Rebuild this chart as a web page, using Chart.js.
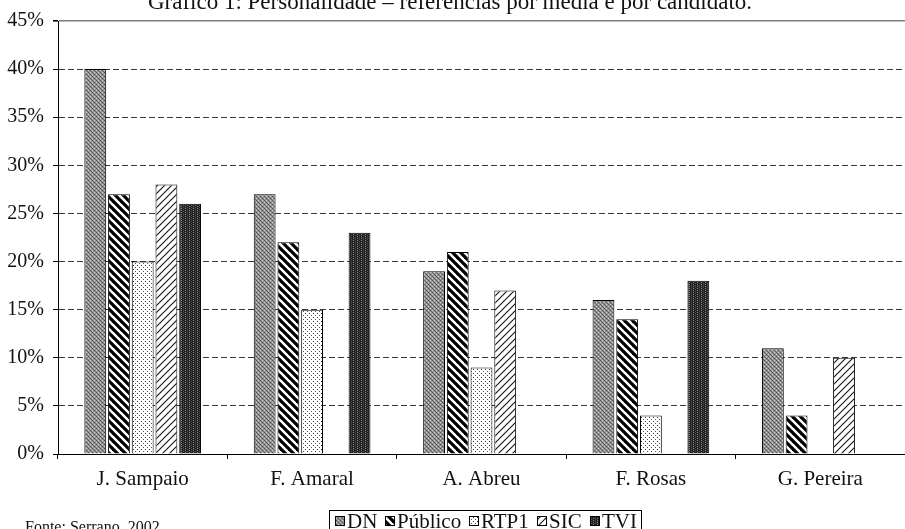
<!DOCTYPE html>
<html>
<head>
<meta charset="utf-8">
<script src="https://cdn.jsdelivr.net/npm/chart.js@4/dist/chart.umd.min.js"></script>
<style>
  html, body { margin: 0; padding: 0; background: #fff; }
  #wrap { width: 905px; height: 529px; overflow: hidden; }
</style>
</head>
<body>
<div id="wrap"><canvas id="c" width="905" height="529"></canvas></div>
<script>
// Personalidade – share of references per medium and per candidate (%)
const candidates = ['J. Sampaio', 'F. Amaral', 'A. Abreu', 'F. Rosas', 'G. Pereira'];
const dn      = [40, 27, 19, 16, 11];
const publico = [27, 22, 21, 14, 4];
const rtp1    = [20, 15, 9, 4, null];
const sic     = [28, null, 17, null, 10];
const tvi     = [26, 23, null, 18, null];
const seriesNames = ['DN', 'Público', 'RTP1', 'SIC', 'TVI'];
const yTickValues = [0, 5, 10, 15, 20, 25, 30, 35, 40, 45];
const titleText = 'Gráfico 1: Personalidade – referências por media e por candidato.';
const sourceText = 'Fonte: Serrano, 2002';

const FONT = '"Liberation Serif", "Times New Roman", serif';

// --- fill patterns (monochrome print style) ---
function tile(w, h, paint) {
  const c = document.createElement('canvas');
  c.width = w; c.height = h;
  const g = c.getContext('2d');
  paint(g, w, h);
  return document.getElementById('c').getContext('2d').createPattern(c, 'repeat');
}
function px(g, x, y, col) { g.fillStyle = col; g.fillRect(x, y, 1, 1); }

const patDN = tile(4, 4, (g) => {
  g.fillStyle = '#949494'; g.fillRect(0, 0, 4, 4);
  px(g, 0, 0, '#4e4e4e'); px(g, 2, 2, '#4e4e4e');
  px(g, 1, 1, '#6a6a6a'); px(g, 3, 3, '#6a6a6a');
  px(g, 2, 0, '#cfcfcf'); px(g, 0, 2, '#cfcfcf');
});
const patPublico = tile(8, 8, (g, w, h) => {
  g.fillStyle = '#fff'; g.fillRect(0, 0, w, h);
  g.strokeStyle = '#000'; g.lineWidth = 3.2;
  for (let k = -1; k <= 1; k++) {
    g.beginPath(); g.moveTo(k * w - 1, -1); g.lineTo(k * w + w + 1, h + 1); g.stroke();
  }
});
const patRTP1 = tile(4, 4, (g) => {
  g.fillStyle = '#fff'; g.fillRect(0, 0, 4, 4);
  px(g, 1, 1, '#333'); px(g, 3, 3, '#555');
});
const patSIC = tile(7, 7, (g, w, h) => {
  g.fillStyle = '#fff'; g.fillRect(0, 0, w, h);
  g.strokeStyle = '#111'; g.lineWidth = 1.1;
  for (let k = -1; k <= 1; k++) {
    g.beginPath(); g.moveTo(k * w - 1, h + 1); g.lineTo(k * w + w + 1, -1); g.stroke();
  }
});
const patTVI = tile(4, 4, (g) => {
  g.fillStyle = '#222'; g.fillRect(0, 0, 4, 4);
  px(g, 1, 0, '#8a8a8a'); px(g, 1, 2, '#8a8a8a');
  px(g, 3, 1, '#555'); px(g, 3, 3, '#555');
});

const seriesValues = [dn, publico, rtp1, sic, tvi];
const seriesFills = [patDN, patPublico, patRTP1, patSIC, patTVI];

const datasets = seriesNames.map((name, i) => ({
  label: name,
  data: seriesValues[i],
  backgroundColor: seriesFills[i],
  borderColor: '#000',
  borderWidth: 1,
  categoryPercentage: 0.70,
  barPercentage: 0.92
}));

// title, legend box and source note drawn around the plot
const decorations = {
  id: 'decorations',
  afterDraw(chart) {
    const ctx = chart.ctx;
    ctx.save();
    ctx.fillStyle = '#111';
    ctx.textBaseline = 'alphabetic';

    // title (sits at the very top edge)
    ctx.font = '23px ' + FONT;
    ctx.textAlign = 'center';
    ctx.fillText(titleText, 450, 9);

    // legend
    ctx.font = '21px ' + FONT;
    ctx.textAlign = 'left';
    const sq = 10, gapIn = 2, gapOut = 8, pad = 5;
    const widths = seriesNames.map(n => ctx.measureText(n).width);
    let total = pad * 2;
    widths.forEach((w, i) => { total += sq + gapIn + w + (i < widths.length - 1 ? gapOut : 0); });
    const cx = 485;
    const bx = Math.round(cx - total / 2) + 0.5;
    const by = 510.5;
    ctx.strokeStyle = '#000';
    ctx.lineWidth = 1;
    ctx.strokeRect(bx, by, Math.round(total), 40);
    let x = Math.round(bx + pad);
    seriesNames.forEach((n, i) => {
      ctx.fillStyle = chart.data.datasets[i].backgroundColor;
      ctx.fillRect(x, 516, sq, sq);
      ctx.strokeRect(x + 0.5, 516.5, sq - 1, sq - 1);
      x += sq + gapIn;
      ctx.fillStyle = '#111';
      ctx.fillText(n, x, 528);
      x = Math.round(x + widths[i] + gapOut);
    });

    // source
    ctx.font = '16px ' + FONT;
    ctx.fillText(sourceText, 25, 532);
    ctx.restore();
  }
};

new Chart(document.getElementById('c'), {
  type: 'bar',
  data: { labels: candidates, datasets },
  options: {
    responsive: false,
    animation: false,
    devicePixelRatio: 1,
    layout: { padding: { top: 21, left: 0, right: 0, bottom: 0 } },
    plugins: {
      legend: { display: false },
      title: { display: false },
      tooltip: { enabled: false }
    },
    scales: {
      x: {
        grid: {
          offset: true,
          drawOnChartArea: false,
          drawTicks: true,
          tickLength: 5,
          color: '#000',
          lineWidth: 1
        },
        border: { color: '#000', width: 1 },
        ticks: { font: { family: FONT, size: 21 }, color: '#111', padding: 8 },
        afterFit(scale) { scale.height = 75; }
      },
      y: {
        min: 0,
        max: 45,
        afterBuildTicks(scale) { scale.ticks = yTickValues.map(v => ({ value: v })); },
        ticks: {
          font: { family: FONT, size: 20 },
          color: '#111',
          padding: 9,
          callback: (v) => v + '%'
        },
        grid: {
          color: (c) => c.tick && c.tick.value === 0 ? 'rgba(0,0,0,0)'
            : (c.tick && c.tick.value === 45 ? '#808080' : '#3a3a3a'),
          lineWidth: (c) => c.tick && c.tick.value === 45 ? 1.6 : 1,
          tickColor: '#000',
          tickLength: 5,
          tickBorderDash: []
        },
        border: {
          color: '#000',
          width: 1,
          dash: (c) => c.tick && c.tick.value === 45 ? [] : [6, 3]
        },
        afterFit(scale) { scale.width = 58; }
      }
    }
  },
  plugins: [decorations]
});
</script>
</body>
</html>
